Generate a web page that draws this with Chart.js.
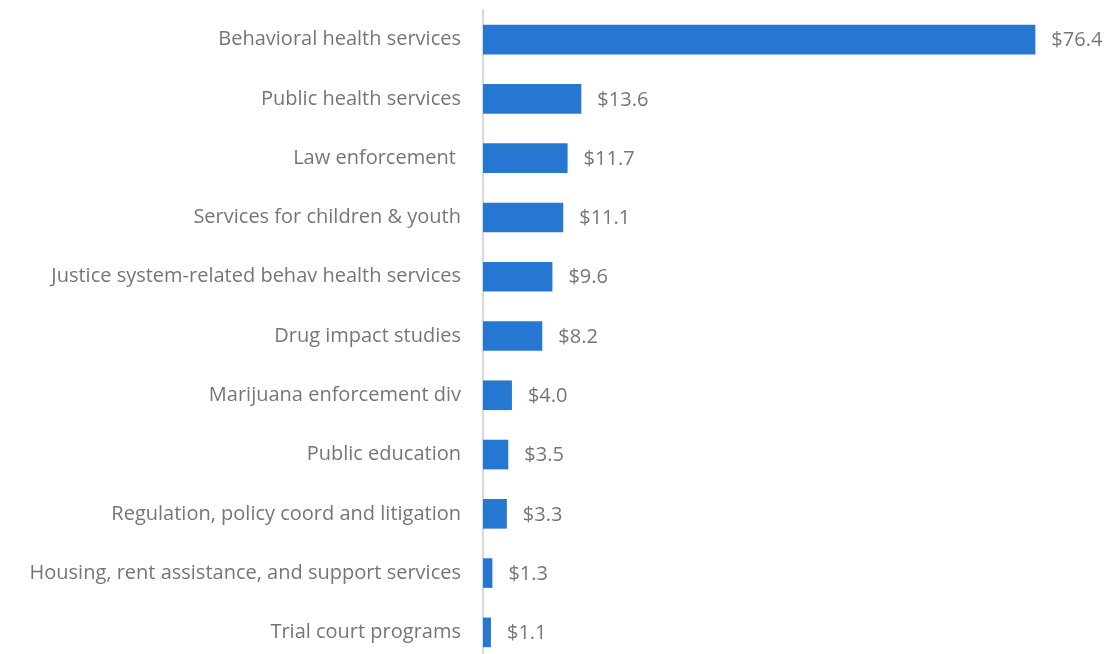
<!DOCTYPE html>
<html>
<head>
<meta charset="utf-8">
<script src="https://cdn.jsdelivr.net/npm/chart.js@4"></script>
<style>
  html, body { margin: 0; padding: 0; background: #fff; overflow: hidden; }
  canvas { display: block; }
</style>
</head>
<body>
<canvas id="chart" width="1112" height="662"></canvas>
<script>
const categories = [
    'Behavioral health services',
    'Public health services',
    'Law enforcement ',
    'Services for children & youth',
    'Justice system-related behav health services',
    'Drug impact studies',
    'Marijuana enforcement div',
    'Public education',
    'Regulation, policy coord and litigation',
    'Housing, rent assistance, and support services',
    'Trial court programs'
];
const amounts = [76.4, 13.6, 11.7, 11.1, 9.6, 8.2, 4.0, 3.5, 3.3, 1.3, 1.1];

const textColor = '#767676';
const font = { family: '"Open Sans", Lato, sans-serif', size: 20 };

// writes "$xx.x" just past the end of each bar
const valueLabels = {
    id: 'valueLabels',
    afterDatasetsDraw(chart) {
        const ctx = chart.ctx;
        const meta = chart.getDatasetMeta(0);
        ctx.save();
        ctx.font = font.size + 'px ' + font.family;
        ctx.fillStyle = textColor;
        ctx.textAlign = 'left';
        ctx.textBaseline = 'middle';
        meta.data.forEach((bar, i) => {
            ctx.fillText('$' + amounts[i].toFixed(1), bar.x + 16, bar.y + 1);
        });
        ctx.restore();
    }
};

new Chart(document.getElementById('chart'), {
    type: 'bar',
    data: {
        labels: categories,
        datasets: [{
            data: amounts,
            backgroundColor: '#2677d2',
            borderWidth: 0,
            barPercentage: 0.5,
            categoryPercentage: 1.0
        }]
    },
    options: {
        indexAxis: 'y',
        responsive: false,
        devicePixelRatio: 1,
        animation: false,
        layout: { padding: { top: 10, right: 0, bottom: 0, left: 0 } },
        scales: {
            x: {
                min: 0,
                max: 87,
                display: false,
                grid: { display: false }
            },
            y: {
                grid: { display: false },
                border: { color: '#d9d9d9', width: 2 },
                ticks: { color: textColor, font: font, padding: 14 },
                afterFit(scale) {
                    scale.width = 483;
                    scale.paddingTop = 0;
                    scale.paddingBottom = 0;
                }
            }
        },
        plugins: {
            legend: { display: false },
            tooltip: { enabled: false }
        }
    },
    plugins: [valueLabels]
});
</script>
</body>
</html>
